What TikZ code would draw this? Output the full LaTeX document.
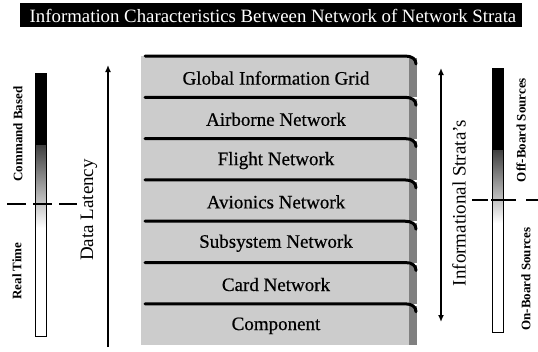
\documentclass[tikz,border=0pt]{standalone}
\usepackage{fontspec}
\setmainfont{Liberation Serif}
\newfontfamily\layerfont[FakeBold=0.5]{Liberation Serif}
\usetikzlibrary{arrows.meta}
\begin{document}
\begin{tikzpicture}[x=1pt,y=-1pt,
  layertext/.style={font=\layerfont\fontsize{19}{19}\selectfont, inner sep=0pt},
  tag/.style={font=\bfseries\fontsize{13}{13}\selectfont, rotate=90, inner sep=0pt},
  axislabel/.style={font=\fontsize{19}{19}\selectfont, rotate=90, inner sep=0pt},
  axis/.style={line width=1.8pt},
  cut/.style={line width=2pt},
  face/.style={fill=black!20},
  side/.style={fill=black!50},
  rim/.style={line width=3pt, line cap=round}]
\useasboundingbox (0,0) rectangle (538,351);
\fill[white] (0,0) rectangle (538,351);

% title bar
\fill[black] (20,3) rectangle (522,27);
\node[white, inner sep=0pt, font=\fontsize{18.8}{18.8}\selectfont] (title) at (273,16)
  {Information Characteristics Between Network of Network Strata};

% stacked strata
\foreach \txt [count=\n from 0] in {Global Information Grid, Airborne Network, Flight Network,
    Avionics Network, Subsystem Network, Card Network, Component}{
  \pgfmathsetmacro\yt{56+41.3*\n}
  \fill[face] (141,\yt) rectangle (409,\yt+41.3);
  \fill[side] (409,\yt+2) rectangle (417,\yt+41.3);
  \draw[rim] (145,\yt) -- (405,\yt) .. controls (412,\yt) and (416,\yt+3) .. (416,\yt+8);
  \node[layertext] (s\n) at (276,\yt+22) {\txt};
}

% latency axis
\coordinate (latlo) at (108,347);
\coordinate (lathi) at (108,65);
\draw[axis, -{Latex[length=7pt,width=6pt]}] (latlo) -- (lathi);
\node[axislabel] (latency) at (89,210) {Data Latency};

% strata axis
\coordinate (strhi) at (441,68);
\coordinate (strlo) at (441,322);
\draw[axis, {Latex[length=7pt,width=6pt]}-{Latex[length=7pt,width=6pt]}] (strhi) -- (strlo);
\node[axislabel] (strata) at (459,203) {Informational Strata’s};

% left scale bar
\fill[black] (35,73) rectangle (46,145);
\shade[top color=black!75, bottom color=white] (35,145) rectangle (46,228);
\draw[line width=0.8pt] (35,73) rectangle (46,336);
\draw[cut, dash pattern=on 19pt off 7pt] (7,204) -- (77,204);
\node[tag] (cmd) at (18,134) {Command Based};
\node[tag] (rt) at (17,271) {Real Time};

% right scale bar
\fill[black] (492,68) rectangle (503,150);
\shade[top color=black!75, bottom color=white] (492,150) rectangle (503,223);
\draw[line width=0.8pt] (492,68) rectangle (503,332);
\draw[cut, dash pattern=on 16pt off 3pt on 25pt off 10pt on 12pt] (472,200) -- (538,200);
\node[tag] (off) at (521,130) {Off-Board Sources};
\node[tag] (on) at (526,279) {On-Board Sources};
\end{tikzpicture}
\end{document}
